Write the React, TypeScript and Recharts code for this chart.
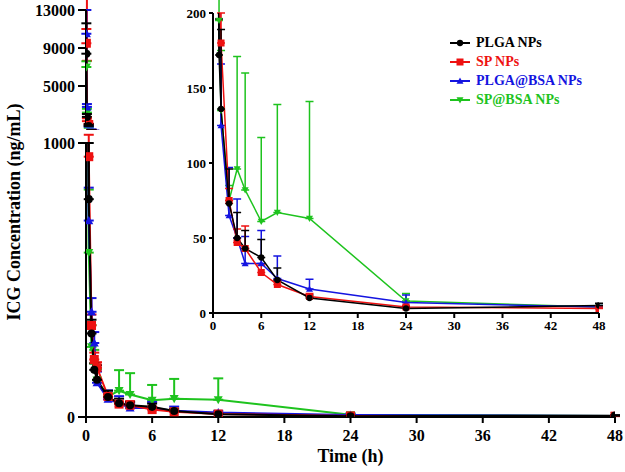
import React from "react";
import { LineChart, Line, XAxis, YAxis, ErrorBar } from "recharts";

const FONT = "'Liberation Serif', 'Times New Roman', serif";

// sampling times (h)
const timeH = [0.033, 0.083, 0.25, 0.5, 0.75, 1, 2, 3, 4, 6, 8, 12, 24, 48];

// mean and SD (ng/mL)
const plgaMean = [8400, 1750, 795, 305, 172, 136, 73, 50, 43, 37, 22, 10, 3, 5];
const plgaSd = [3200, 300, 205, 50, 24, 53, 23, 17, 12, 12, 8, 2, 1, 1.5];
const spMean = [9500, 1300, 950, 334, 210, 180, 75, 47, 43, 27, 19, 11, 4, 3];
const spSd = [1500, 300, 80, 40, 25, 20, 8, 9, 15, 5, 3, 2, 1, 1];
const plgaBsaMean = [10500, 2800, 717, 384, 270, 125, 65, 50, 33, 33, 23, 16, 7, 4];
const plgaBsaSd = [2500, 300, 120, 50, 40, 41, 32, 26, 18, 22, 15, 6.5, 5, 1];
const spBsaMean = [7000, 2200, 600, 256, 195, 135, 75, 96, 82, 61, 67, 63, 8, 4];
const spBsaSd = [600, 400, 230, 80, 50, 40, 10, 75, 78, 56, 72, 78, 5, 1];

const xTicks = [0, 6, 12, 18, 24, 30, 36, 42, 48];
const upperTicks = [1000, 5000, 9000, 13000];
const lowerTicks = [0, 1000];
const insetTicks = [0, 50, 100, 150, 200];

type Shape = "circle" | "square" | "up" | "down";

// drawing order: green first, black on top
const series = [
  { key: "spBsa", name: "SP@BSA NPs", color: "#1ec31e", shape: "down" as Shape, mean: spBsaMean, sd: spBsaSd },
  { key: "plgaBsa", name: "PLGA@BSA NPs", color: "#1414e0", shape: "up" as Shape, mean: plgaBsaMean, sd: plgaBsaSd },
  { key: "sp", name: "SP NPs", color: "#ee1111", shape: "square" as Shape, mean: spMean, sd: spSd },
  { key: "plga", name: "PLGA NPs", color: "#000000", shape: "circle" as Shape, mean: plgaMean, sd: plgaSd },
];
const legendOrder = ["plga", "sp", "plgaBsa", "spBsa"];

const rows = timeH.map((t, i) => {
  const row: Record<string, number | number[]> = { t };
  series.forEach((s) => {
    row[s.key] = s.mean[i];
    row[s.key + "Err"] = [0, s.sd[i]];
  });
  return row;
});

function Marker({ cx, cy, shape, color, size }: { cx?: number; cy?: number; shape: Shape; color: string; size: number }) {
  if (cx == null || cy == null) return null;
  const h = size / 2;
  if (shape === "circle") return <circle cx={cx} cy={cy} r={h * 0.9} fill={color} />;
  if (shape === "square") return <rect x={cx - h} y={cy - h} width={size} height={size} fill={color} />;
  if (shape === "up")
    return <polygon points={`${cx},${cy - h} ${cx + h},${cy + h * 0.8} ${cx - h},${cy + h * 0.8}`} fill={color} />;
  return <polygon points={`${cx},${cy + h} ${cx + h},${cy - h * 0.8} ${cx - h},${cy - h * 0.8}`} fill={color} />;
}

function seriesLines(markerSize: number, lineWidth: number, capWidth: number) {
  return series.map((s) => (
    <Line
      key={s.key}
      type="linear"
      dataKey={s.key}
      stroke={s.color}
      strokeWidth={lineWidth}
      isAnimationActive={false}
      activeDot={false}
      dot={(p: any) => (
        <Marker key={`${s.key}-${p.index}`} cx={p.cx} cy={p.cy} shape={s.shape} color={s.color} size={markerSize} />
      )}
    >
      <ErrorBar dataKey={`${s.key}Err`} direction="y" width={capWidth} stroke={s.color} strokeWidth={lineWidth} />
    </Line>
  ));
}

const bigTick = { fontFamily: FONT, fontWeight: 700, fontSize: 16, fill: "#000" };
const smallTick = { fontFamily: FONT, fontWeight: 700, fontSize: 13, fill: "#000" };
const axisStroke = { stroke: "#000", strokeWidth: 2 };

export default function App() {
  return (
    <div style={{ position: "absolute", left: 0, top: 0, width: 625, height: 472, background: "#fff" }}>
      {/* lower part of the broken axis: 0 - 1000 */}
      <div style={{ position: "absolute", left: 0, top: 0 }}>
        <LineChart width={625} height={472} data={rows} margin={{ top: 143, right: 10, bottom: 0, left: 26 }}>
          <XAxis
            dataKey="t"
            type="number"
            domain={[0, 48]}
            ticks={xTicks}
            allowDataOverflow
            height={55}
            tick={bigTick}
            tickSize={6}
            tickMargin={7}
            axisLine={axisStroke}
            tickLine={axisStroke}
            label={{
              value: "Time (h)",
              position: "insideBottom",
              offset: 10,
              style: { fontFamily: FONT, fontWeight: 700, fontSize: 18, fill: "#000" },
            }}
          />
          <YAxis
            type="number"
            domain={[0, 1000]}
            ticks={lowerTicks}
            allowDataOverflow
            width={60}
            tick={bigTick}
            tickSize={8}
            tickMargin={3}
            axisLine={axisStroke}
            tickLine={axisStroke}
          />
          {seriesLines(9, 2, 5)}
        </LineChart>
      </div>

      {/* upper part of the broken axis: 1000 - 13000 */}
      <div style={{ position: "absolute", left: 0, top: 0 }}>
        <LineChart width={625} height={130} data={rows} margin={{ top: 10, right: 10, bottom: 6, left: 26 }}>
          <XAxis dataKey="t" type="number" domain={[0, 48]} allowDataOverflow hide />
          <YAxis
            type="number"
            domain={[1000, 13000]}
            ticks={upperTicks}
            allowDataOverflow
            width={60}
            tick={bigTick}
            tickSize={8}
            tickMargin={3}
            axisLine={axisStroke}
            tickLine={axisStroke}
          />
          {seriesLines(9, 2, 5)}
        </LineChart>
      </div>

      {/* inset: 0 - 200 */}
      <div style={{ position: "absolute", left: 0, top: 0 }}>
        <LineChart width={625} height={345} data={rows} margin={{ top: 13, right: 26, bottom: 2, left: 163 }}>
          <XAxis
            dataKey="t"
            type="number"
            domain={[0, 48]}
            ticks={xTicks}
            allowDataOverflow
            height={30}
            tick={smallTick}
            tickSize={5}
            tickMargin={3}
            axisLine={axisStroke}
            tickLine={axisStroke}
          />
          <YAxis
            type="number"
            domain={[0, 200]}
            ticks={insetTicks}
            allowDataOverflow
            width={50}
            tick={smallTick}
            tickSize={4}
            tickMargin={3}
            axisLine={axisStroke}
            tickLine={axisStroke}
          />
          {seriesLines(7, 1.5, 4)}
        </LineChart>
      </div>

      {/* y-axis title spanning both parts */}
      <div
        style={{
          position: "absolute",
          left: 14 - 160,
          top: 212 - 11,
          width: 320,
          height: 22,
          lineHeight: "22px",
          textAlign: "center",
          transform: "rotate(-90deg)",
          fontFamily: FONT,
          fontWeight: 700,
          fontSize: 18,
          color: "#000",
          whiteSpace: "nowrap",
        }}
      >
        ICG Concentration (ng/mL)
      </div>

      {/* legend */}
      <div style={{ position: "absolute", left: 448, top: 33, fontFamily: FONT, fontWeight: 700, fontSize: 14 }}>
        {legendOrder.map((k) => {
          const s = series.find((x) => x.key === k)!;
          return (
            <div key={k} style={{ display: "flex", alignItems: "center", height: 19, color: s.color }}>
              <svg width={24} height={12}>
                <line x1={2} y1={6} x2={22} y2={6} stroke={s.color} strokeWidth={2} />
                <Marker cx={12} cy={6} shape={s.shape} color={s.color} size={7} />
              </svg>
              <span style={{ marginLeft: 4, whiteSpace: "nowrap" }}>{s.name}</span>
            </div>
          );
        })}
      </div>
    </div>
  );
}
